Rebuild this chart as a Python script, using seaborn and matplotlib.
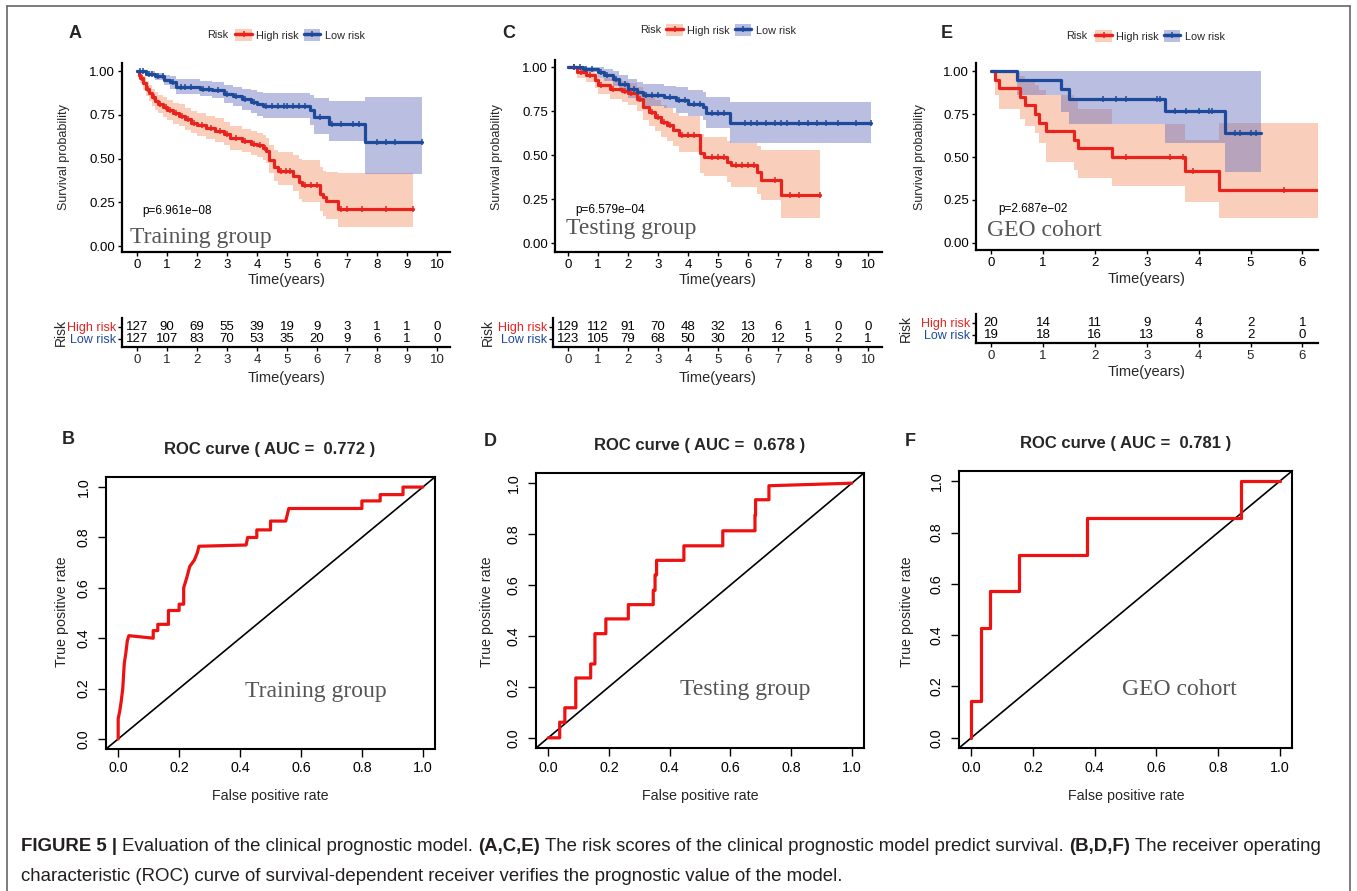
import numpy as np
import pandas as pd
import matplotlib
matplotlib.use("Agg")
import matplotlib.pyplot as plt
import seaborn as sns
from matplotlib.patches import Patch
from matplotlib.lines import Line2D

# ====================== DATA ======================
# ---- Panel A (Training group) KM ----
A_high_t = [0, 0.05, 0.1, 0.2, 0.3, 0.4, 0.5, 0.6, 0.7, 0.85, 1.0, 1.2, 1.4, 1.6, 1.8, 2.0, 2.3, 2.6, 2.9, 3.1,
            3.5, 3.8, 4.0, 4.2, 4.3, 4.4, 4.55, 4.7, 5.2, 5.4, 5.5, 6.1, 6.2, 6.3, 6.7]
A_high_s = [1.0, 0.98, 0.96, 0.93, 0.90, 0.875, 0.85, 0.83, 0.81, 0.795, 0.775, 0.76, 0.745, 0.725, 0.705, 0.69,
            0.675, 0.66, 0.64, 0.615, 0.60, 0.585, 0.575, 0.56, 0.545, 0.49, 0.45, 0.43, 0.40, 0.366, 0.35, 0.30,
            0.28, 0.26, 0.213]
A_high_lo = [1.0, 0.96, 0.93, 0.89, 0.86, 0.83, 0.80, 0.78, 0.76, 0.74, 0.72, 0.70, 0.685, 0.665, 0.645, 0.63,
             0.61, 0.595, 0.575, 0.55, 0.535, 0.52, 0.51, 0.49, 0.475, 0.415, 0.37, 0.35, 0.315, 0.27, 0.25, 0.20,
             0.17, 0.155, 0.108]
A_high_up = [1.0, 1.0, 0.99, 0.97, 0.945, 0.92, 0.90, 0.88, 0.865, 0.85, 0.835, 0.82, 0.81, 0.79, 0.77, 0.76,
             0.745, 0.73, 0.71, 0.685, 0.67, 0.655, 0.645, 0.635, 0.62, 0.58, 0.55, 0.54, 0.52, 0.50, 0.49, 0.45,
             0.43, 0.425, 0.42]
A_high_end = 9.2
A_high_cens = [0.15, 0.35, 0.55, 0.75, 0.95, 1.1, 1.3, 1.5, 1.7, 1.9, 2.15, 2.45, 2.75, 3.0, 3.3, 3.6, 3.9, 4.1,
               4.25, 4.8, 4.95, 5.1, 5.6, 5.8, 6.0, 6.8, 7.0, 7.5, 8.3, 9.2]

A_low_t = [0, 0.3, 0.6, 0.9, 1.1, 1.3, 2.1, 2.5, 2.9, 3.2, 3.5, 3.8, 4.0, 4.2, 5.75, 5.9, 6.4, 7.6]
A_low_s = [1.0, 0.985, 0.97, 0.95, 0.935, 0.91, 0.90, 0.89, 0.87, 0.855, 0.84, 0.825, 0.813, 0.80, 0.775, 0.737,
           0.70, 0.594]
A_low_lo = [1.0, 0.97, 0.95, 0.92, 0.90, 0.87, 0.86, 0.845, 0.82, 0.80, 0.78, 0.76, 0.745, 0.73, 0.69, 0.64,
            0.60, 0.413]
A_low_up = [1.0, 1.0, 0.99, 0.98, 0.97, 0.955, 0.945, 0.935, 0.92, 0.91, 0.90, 0.89, 0.88, 0.875, 0.865, 0.845,
            0.83, 0.851]
A_low_end = 9.5
A_low_cens = [0.1, 0.2, 0.4, 0.5, 0.7, 0.85, 1.2, 1.45, 1.6, 1.8, 2.2, 2.4, 2.7, 3.0, 3.3, 3.6, 3.9, 4.3, 4.5,
              4.7, 4.9, 5.0, 5.2, 5.4, 5.6, 6.1, 6.5, 6.8, 7.2, 7.4, 8.0, 8.3, 8.6, 9.5]

# ---- Panel C (Testing group) KM ----
C_high_t = [0, 0.3, 0.6, 0.9, 1.0, 1.4, 1.8, 2.0, 2.3, 2.5, 2.7, 2.9, 3.1, 3.3, 3.5, 3.7, 4.4, 4.55, 5.3, 5.45,
            6.3, 6.45, 7.1]
C_high_s = [1.0, 0.97, 0.953, 0.925, 0.896, 0.877, 0.864, 0.85, 0.82, 0.774, 0.745, 0.717, 0.69, 0.67, 0.64,
            0.613, 0.51, 0.49, 0.462, 0.443, 0.406, 0.358, 0.274]
C_high_lo = [1.0, 0.94, 0.915, 0.88, 0.845, 0.82, 0.80, 0.785, 0.75, 0.70, 0.665, 0.635, 0.605, 0.58, 0.55,
             0.52, 0.40, 0.38, 0.345, 0.32, 0.28, 0.245, 0.14]
C_high_up = [1.0, 1.0, 0.99, 0.965, 0.94, 0.93, 0.92, 0.91, 0.885, 0.85, 0.83, 0.81, 0.785, 0.765, 0.74, 0.72,
             0.62, 0.60, 0.58, 0.566, 0.55, 0.528, 0.528]
C_high_end = 8.4
C_high_cens = [0.2, 0.45, 0.75, 1.1, 1.5, 1.9, 2.1, 2.4, 2.8, 3.0, 3.2, 3.4, 3.8, 4.0, 4.2, 4.8, 5.0, 5.2, 5.6,
               5.8, 6.0, 6.2, 6.9, 7.4, 7.7, 8.4]

C_low_t = [0, 0.5, 1.0, 1.2, 1.5, 1.7, 2.0, 2.3, 2.5, 3.2, 3.6, 4.0, 4.5, 4.6, 5.4]
C_low_s = [1.0, 0.99, 0.97, 0.953, 0.934, 0.906, 0.877, 0.858, 0.84, 0.83, 0.81, 0.79, 0.774, 0.736, 0.68]
C_low_lo = [1.0, 0.97, 0.94, 0.92, 0.895, 0.86, 0.825, 0.80, 0.78, 0.765, 0.74, 0.72, 0.70, 0.655, 0.566]
C_low_up = [1.0, 1.0, 1.0, 0.99, 0.975, 0.955, 0.93, 0.915, 0.905, 0.895, 0.885, 0.87, 0.86, 0.83, 0.80]
C_low_end = 10.1
C_low_cens = [0.2, 0.4, 0.6, 0.8, 1.1, 1.3, 1.6, 1.9, 2.2, 2.6, 2.8, 3.0, 3.4, 3.7, 3.9, 4.2, 4.4, 4.8, 5.0,
              5.2, 5.9, 6.1, 6.3, 6.6, 6.9, 7.1, 7.3, 7.7, 8.0, 8.3, 8.6, 9.0, 9.6, 10.1]

# ---- Panel E (GEO cohort) KM ----
E_high_t = [0, 0.08, 0.15, 0.55, 0.65, 0.85, 0.92, 1.05, 1.6, 1.68, 2.33, 3.73, 4.4]
E_high_s = [1.0, 0.95, 0.90, 0.85, 0.80, 0.75, 0.70, 0.65, 0.60, 0.55, 0.50, 0.42, 0.31]
E_high_lo = [1.0, 0.86, 0.78, 0.72, 0.68, 0.64, 0.58, 0.47, 0.425, 0.377, 0.33, 0.24, 0.145]
E_high_up = [1.0, 1.0, 0.99, 0.97, 0.95, 0.92, 0.89, 0.86, 0.83, 0.78, 0.69, 0.60, 0.70]
E_high_end = 6.3
E_high_cens = [2.6, 3.45, 3.7, 3.9, 5.65]

E_low_t = [0, 0.5, 1.35, 1.5, 3.35, 4.5]
E_low_s = [1.0, 0.95, 0.895, 0.84, 0.77, 0.64]
E_low_lo = [1.0, 0.86, 0.76, 0.69, 0.58, 0.41]
E_low_up = [1.0, 1.0, 1.0, 1.0, 1.0, 1.0]
E_low_end = 5.2
E_low_cens = [2.15, 2.4, 2.6, 3.2, 3.25, 3.55, 3.75, 4.0, 4.2, 4.25, 4.7, 4.8, 5.0, 5.1]

# ---- Numbers at risk ----
AC_years = [0, 1, 2, 3, 4, 5, 6, 7, 8, 9, 10]
E_years = [0, 1, 2, 3, 4, 5, 6]
A_high_n = [127, 90, 69, 55, 39, 19, 9, 3, 1, 1, 0]
A_low_n = [127, 107, 83, 70, 53, 35, 20, 9, 6, 1, 0]
C_high_n = [129, 112, 91, 70, 48, 32, 13, 6, 1, 0, 0]
C_low_n = [123, 105, 79, 68, 50, 30, 20, 12, 5, 2, 1]
E_high_n = [20, 14, 11, 9, 4, 2, 1]
E_low_n = [19, 18, 16, 13, 8, 2, 0]

p_values = ["p=6.961e\u221208", "p=6.579e\u221204", "p=2.687e\u221202"]
cohorts = ["Training group", "Testing group", "GEO cohort"]
risk_labels = ["High risk", "Low risk"]

# ---- ROC curves ----
B_fpr = [0, 0, 0.005, 0.01, 0.015, 0.02, 0.025, 0.03, 0.035, 0.115, 0.115, 0.13, 0.13, 0.165, 0.165, 0.2, 0.2,
         0.215, 0.215, 0.225, 0.235, 0.25, 0.26, 0.265, 0.42, 0.425, 0.455, 0.455, 0.5, 0.5, 0.55, 0.555, 0.56,
         0.8, 0.8, 0.86, 0.86, 0.935, 0.935, 1.0]
B_tpr = [0, 0.08, 0.11, 0.15, 0.2, 0.3, 0.34, 0.39, 0.41, 0.40, 0.43, 0.43, 0.455, 0.455, 0.51, 0.51, 0.535,
         0.535, 0.6, 0.64, 0.685, 0.71, 0.74, 0.765, 0.77, 0.80, 0.80, 0.83, 0.83, 0.865, 0.865, 0.89, 0.915,
         0.915, 0.945, 0.945, 0.97, 0.97, 1.0, 1.0]
D_fpr = [0, 0.038, 0.038, 0.055, 0.055, 0.091, 0.091, 0.14, 0.14, 0.154, 0.154, 0.19, 0.19, 0.264, 0.264, 0.346,
         0.346, 0.352, 0.352, 0.357, 0.357, 0.447, 0.447, 0.575, 0.575, 0.681, 0.681, 0.683, 0.683, 0.727, 0.727,
         1.0]
D_tpr = [0, 0, 0.061, 0.061, 0.118, 0.118, 0.235, 0.235, 0.29, 0.29, 0.409, 0.409, 0.467, 0.467, 0.523, 0.523,
         0.579, 0.579, 0.64, 0.64, 0.697, 0.697, 0.754, 0.754, 0.813, 0.813, 0.875, 0.875, 0.935, 0.935, 0.99,
         1.0]
F_fpr = [0, 0, 0.031, 0.031, 0.062, 0.062, 0.156, 0.156, 0.375, 0.375, 0.875, 0.875, 1.0]
F_tpr = [0, 0.143, 0.143, 0.429, 0.429, 0.571, 0.571, 0.714, 0.714, 0.857, 0.857, 1.0, 1.0]
auc_values = [0.772, 0.678, 0.781]
roc_ticks = [0.0, 0.2, 0.4, 0.6, 0.8, 1.0]
km_yticks = [0.0, 0.25, 0.5, 0.75, 1.0]

# ====================== STYLE ======================
sns.set_theme(style="ticks")
plt.rcParams["font.family"] = ["Liberation Sans", "DejaVu Sans"]
plt.rcParams["axes.unicode_minus"] = True

W, H = 1357, 891
fig = plt.figure(figsize=(W / 100, H / 100), dpi=100)
fig.patch.set_facecolor("white")

RED = "#E8231E"
BLUE = "#1E4A9C"
RED_BAND = "#F2956A"
BLUE_BAND = "#6770BE"
SERIF = ["Liberation Serif", "DejaVu Serif"]


def rect(l, t, r, b):
    return [l / W, 1 - b / H, (r - l) / W, (b - t) / H]


def fx(x):
    return x / W


def fy(y):
    return 1 - y / H


def step_at(t, s, x):
    idx = np.searchsorted(np.asarray(t), np.asarray(x), side="right") - 1
    return np.asarray(s)[idx]


def km_panel(box, xlim, ylim, xticks, groups, ptxt, ppos, cohort, cpos):
    ax = fig.add_axes(rect(*box))
    for g in groups:
        t_ext = list(g["t"]) + [g["end"]]
        lo_ext = list(g["lo"]) + [g["lo"][-1]]
        up_ext = list(g["up"]) + [g["up"][-1]]
        ax.fill_between(t_ext, lo_ext, up_ext, step="post", color=g["band"], alpha=0.45, lw=0, zorder=1)
    for g in groups:
        t_ext = list(g["t"]) + [g["end"]]
        s_ext = list(g["s"]) + [g["s"][-1]]
        sns.lineplot(x=t_ext, y=s_ext, drawstyle="steps-post", estimator=None, sort=False,
                     color=g["color"], lw=2.3, ax=ax, zorder=3)
        cy = step_at(g["t"], g["s"], g["cens"])
        ax.plot(g["cens"], cy, ls="none", marker="|", ms=5, mew=1.1, color=g["color"], zorder=4)
    ax.set_xlim(*xlim)
    ax.set_ylim(*ylim)
    ax.set_xticks(xticks)
    ax.set_xticklabels([str(v) for v in xticks])
    ax.set_yticks(km_yticks)
    ax.set_yticklabels([f"{v:.2f}" for v in km_yticks])
    ax.set_xlabel("")
    ax.set_ylabel("")
    for sp in ["top", "right"]:
        ax.spines[sp].set_visible(False)
    for sp in ["left", "bottom"]:
        ax.spines[sp].set_linewidth(1.6)
        ax.spines[sp].set_color("black")
    ax.tick_params(axis="both", length=3, width=1.0, color="black", labelsize=9.5, labelcolor="black", pad=2)
    ax.text(ppos[0], ppos[1], ptxt, fontsize=8.5, ha="left", va="center", color="black")
    ax.text(cpos[0], cpos[1], cohort, fontsize=17, ha="left", va="center", color="#555555", family=SERIF)
    return ax


def risk_table(box, xlim, years, high_n, low_n):
    # rows 12 px apart: High at y=1, Low at y=0 ; axes height 29 px
    ax = fig.add_axes(rect(*box))
    ax.set_xlim(*xlim)
    ax.set_ylim(-0.667, 1.75)
    for x, n in zip(years, high_n):
        ax.text(x, 1, str(n), ha="center", va="center", fontsize=9.5, color="black")
    for x, n in zip(years, low_n):
        ax.text(x, 0, str(n), ha="center", va="center", fontsize=9.5, color="black")
    ax.set_xticks(years)
    ax.set_xticklabels([str(v) for v in years])
    ax.set_yticks([1, 0])
    ax.set_yticklabels(risk_labels)
    for lab, c in zip(ax.get_yticklabels(), [RED, BLUE]):
        lab.set_color(c)
    for sp in ["top", "right"]:
        ax.spines[sp].set_visible(False)
    for sp in ["left", "bottom"]:
        ax.spines[sp].set_linewidth(1.6)
        ax.spines[sp].set_color("black")
    ax.tick_params(axis="both", length=3, width=1.0, color="black", labelsize=9.5, pad=2)
    ax.tick_params(axis="y", labelsize=9, pad=1)
    ax.patch.set_alpha(0)
    return ax


def legend_at(cx, cy, risk_right):
    handles = [
        (Patch(facecolor=RED_BAND, alpha=0.45, edgecolor="none"),
         Line2D([], [], color=RED, lw=2.5, marker="|", ms=5, mew=1.1)),
        (Patch(facecolor=BLUE_BAND, alpha=0.45, edgecolor="none"),
         Line2D([], [], color=BLUE, lw=2.5, marker="|", ms=5, mew=1.1)),
    ]
    fig.legend(handles, risk_labels, loc="center", bbox_to_anchor=(fx(cx), fy(cy)), ncol=2, frameon=False,
               fontsize=7.8, handlelength=1.5, handleheight=1.4, handletextpad=0.4, columnspacing=0.5,
               borderpad=0, borderaxespad=0)
    fig.text(fx(risk_right), fy(cy), "Risk", ha="right", va="center", fontsize=7.8)


def group(t, s, lo, up, end, cens, color, band):
    return dict(t=t, s=s, lo=lo, up=up, end=end, cens=cens, color=color, band=band)


# ====================== KM PANELS ======================
gA = [group(A_high_t, A_high_s, A_high_lo, A_high_up, A_high_end, A_high_cens, RED, RED_BAND),
      group(A_low_t, A_low_s, A_low_lo, A_low_up, A_low_end, A_low_cens, BLUE, BLUE_BAND)]
gC = [group(C_high_t, C_high_s, C_high_lo, C_high_up, C_high_end, C_high_cens, RED, RED_BAND),
      group(C_low_t, C_low_s, C_low_lo, C_low_up, C_low_end, C_low_cens, BLUE, BLUE_BAND)]
gE = [group(E_high_t, E_high_s, E_high_lo, E_high_up, E_high_end, E_high_cens, RED, RED_BAND),
      group(E_low_t, E_low_s, E_low_lo, E_low_up, E_low_end, E_low_cens, BLUE, BLUE_BAND)]

km_panel((122, 63, 450, 252), (-0.5, 10.43), (-0.034, 1.046), AC_years, gA,
         p_values[0], (0.17, 0.2), cohorts[0], (-0.25, 0.05))
km_panel((555, 60, 882, 252), (-0.433, 10.47), (-0.051, 1.04), AC_years, gC,
         p_values[1], (0.23, 0.19), cohorts[1], (-0.05, 0.08))
km_panel((976, 63, 1318, 250), (-0.29, 6.3), (-0.041, 1.047), E_years, gE,
         p_values[2], (0.13, 0.2), cohorts[2], (-0.07, 0.075))

legend_at(300, 35, 228)
legend_at(731, 30, 661)
legend_at(1160, 36, 1087)

# y labels and x labels for KM
for x in (64, 497, 920):
    fig.text(fx(x), fy(157), "Survival probability", rotation=90, ha="center", va="center", fontsize=9)
for x, y in ((287, 280), (718, 280), (1147, 279)):
    fig.text(fx(x), fy(y), "Time(years)", ha="center", va="center", fontsize=10.5)

# ====================== RISK TABLES ======================
risk_table((122, 318, 450, 347), (-0.5, 10.43), AC_years, A_high_n, A_low_n)
risk_table((553, 318, 882, 347), (-0.5, 10.47), AC_years, C_high_n, C_low_n)
risk_table((976, 314, 1318, 343), (-0.29, 6.3), E_years, E_high_n, E_low_n)
for x, y in ((61, 333), (488, 333), (906, 329)):
    fig.text(fx(x), fy(y), "Risk", rotation=90, ha="center", va="center", fontsize=10)
for x, y in ((287, 378), (718, 378), (1147, 372)):
    fig.text(fx(x), fy(y), "Time(years)", ha="center", va="center", fontsize=10.5)


# ====================== ROC PANELS ======================
def roc_panel(box, fpr, tpr, auc, cohort, cpos, title_x):
    ax = fig.add_axes(rect(*box))
    ax.axline((0, 0), slope=1, color="black", lw=1.2, zorder=2)
    sns.lineplot(x=fpr, y=tpr, sort=False, estimator=None, color="#EE1111", lw=2.3, ax=ax, zorder=3)
    ax.set_xlim(-0.04, 1.04)
    ax.set_ylim(-0.04, 1.04)
    ax.set_xticks(roc_ticks)
    ax.set_yticks(roc_ticks)
    ax.set_xticklabels([f"{v:.1f}" for v in roc_ticks])
    ax.set_yticklabels([f"{v:.1f}" for v in roc_ticks], rotation=90, va="center")
    ax.set_xlabel("")
    ax.set_ylabel("")
    for sp in ax.spines.values():
        sp.set_linewidth(1.5)
        sp.set_color("black")
    ax.tick_params(axis="both", length=6, width=1.0, color="black", labelsize=10.3, labelcolor="black")
    ax.tick_params(axis="x", pad=3)
    ax.tick_params(axis="y", pad=5)
    ax.text(cpos[0], cpos[1], cohort, fontsize=17, ha="center", va="center", color="#555555", family=SERIF)
    top = box[1]
    fig.text(fx(title_x), fy(top - 28), f"ROC curve ( AUC =  {auc:.3f} )", ha="center", va="center",
             fontsize=12, fontweight="bold")
    return ax


roc_panel((106, 477, 435, 749), B_fpr, B_tpr, auc_values[0], cohorts[0], (0.65, 0.19), 270)
roc_panel((536, 473, 864, 748), D_fpr, D_tpr, auc_values[1], cohorts[1], (0.648, 0.19), 700)
roc_panel((959, 471, 1292, 748), F_fpr, F_tpr, auc_values[2], cohorts[2], (0.675, 0.19), 1126)

for x in (62, 487, 907):
    fig.text(fx(x), fy(612), "True positive rate", rotation=90, ha="center", va="center", fontsize=10.3)
for x in (270, 700, 1126):
    fig.text(fx(x), fy(796), "False positive rate", ha="center", va="center", fontsize=10.3)

# ====================== PANEL LETTERS ======================
for lab, x, y in (("A", 75, 33), ("C", 509, 33), ("E", 947, 33), ("B", 68, 440), ("D", 490, 442), ("F", 910, 441)):
    fig.text(fx(x), fy(y), lab, ha="center", va="center", fontsize=13, fontweight="bold")

# ====================== FRAME ======================
FRAME = "#666666"
fig.add_artist(Line2D([fx(7), fx(1350)], [fy(6), fy(6)], transform=fig.transFigure, color=FRAME, lw=1.2))
fig.add_artist(Line2D([fx(7), fx(7)], [fy(6), fy(891)], transform=fig.transFigure, color=FRAME, lw=1.2))
fig.add_artist(Line2D([fx(1350), fx(1350)], [fy(6), fy(891)], transform=fig.transFigure, color=FRAME, lw=1.2))

# ====================== CAPTION ======================
cap_family = ["Liberation Sans Narrow", "Liberation Sans"]
line1 = [("FIGURE 5 |", True), ("Evaluation of the clinical prognostic model.", False), ("(A,C,E)", True),
         ("The risk scores of the clinical prognostic model predict survival.", False), ("(B,D,F)", True),
         ("The receiver operating", False)]
line2 = [("characteristic (ROC) curve of survival-dependent receiver verifies the prognostic value of the model.",
          False)]

renderer = fig.canvas.get_renderer()


def measure(txt, size, bold):
    t = fig.text(0, 0, txt, fontsize=size, fontweight="bold" if bold else "normal", family=cap_family)
    w = t.get_window_extent(renderer).width
    t.remove()
    return w


def line_width(parts, size):
    sp = measure("a a", size, False) - measure("aa", size, False)
    return sum(measure(p, size, b) for p, b in parts) + sp * (len(parts) - 1), sp


base = 14
w1, _ = line_width(line1, base)
cap_size = base * 1316 / w1


def draw_line(parts, x0, y, size):
    _, sp = line_width(parts, size)
    cur = x0
    for p, b in parts:
        fig.text(fx(cur), fy(y), p, fontsize=size, fontweight="bold" if b else "normal", family=cap_family,
                 ha="left", va="baseline", color="#231F20")
        cur += measure(p, size, b) + sp


draw_line(line1, 21, 851, cap_size)
draw_line(line2, 21, 881, cap_size)

fig.savefig("out.png", dpi=100, facecolor="white")
